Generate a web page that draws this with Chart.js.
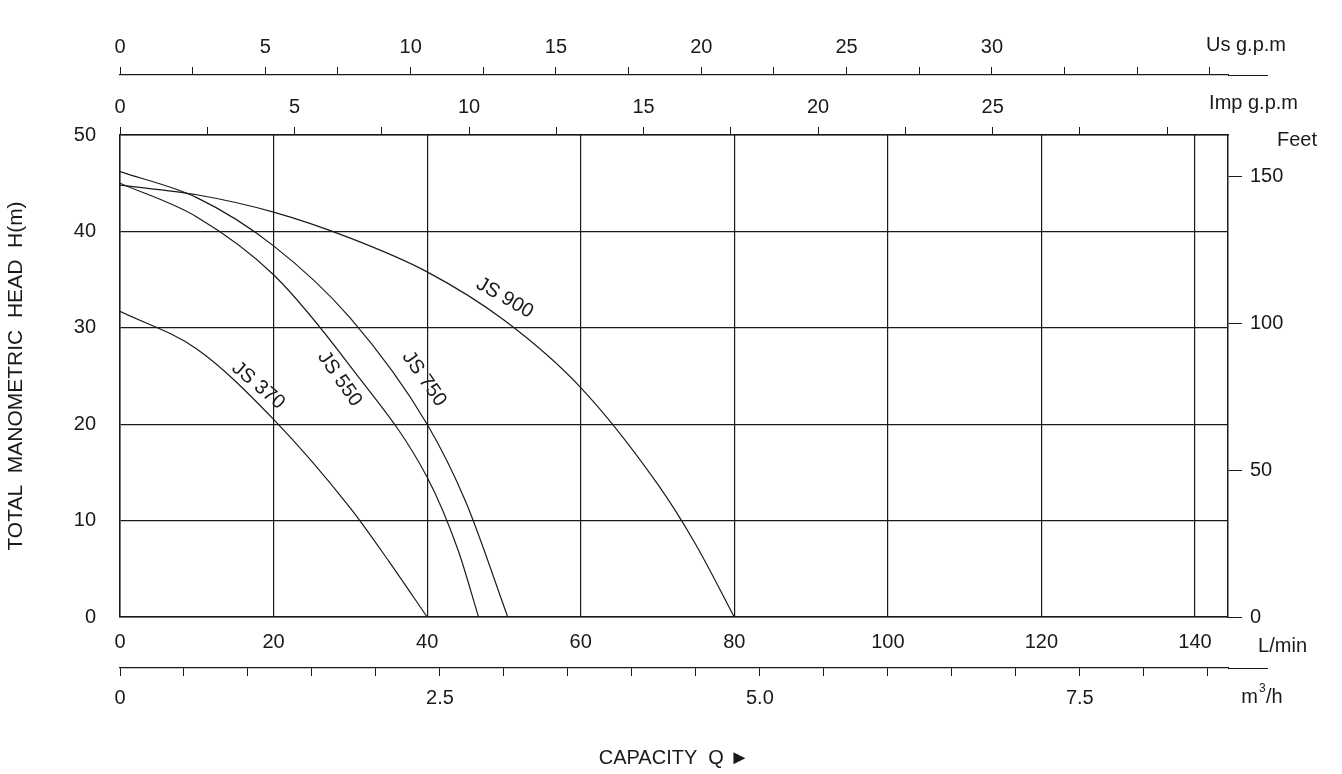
<!DOCTYPE html>
<html>
<head>
<meta charset="utf-8">
<script src="https://cdn.jsdelivr.net/npm/chart.js@4"></script>
<style>
  html, body { margin: 0; padding: 0; background: #fff; }
  #wrap { width: 1342px; height: 774px; }
</style>
</head>
<body>
<div id="wrap"><canvas id="pumpChart"></canvas></div>
<script>
const ctx = document.getElementById('pumpChart').getContext('2d');

// capacity (L/min) vs head (m)
const js370Q = [0, 10, 20, 30, 35, 40];
const js370H = [31.7, 27.8, 20.5, 11.3, 5.8, 0];
const js550Q = [0, 10, 20, 30, 40, 44, 46.7];
const js550H = [45, 41.5, 35.5, 26, 14.5, 7, 0];
const js750Q = [0, 10, 20, 30, 40, 45, 50.5];
const js750H = [46.2, 43.5, 38.5, 31, 20, 12, 0];
const js900Q = [0, 10, 20, 30, 40, 50, 60, 70, 75, 80];
const js900H = [44.8, 43.8, 42, 39.3, 35.8, 30.8, 23.8, 13.8, 7.5, 0];

const curveNames = ['JS 370', 'JS 550', 'JS 750', 'JS 900'];
const labelQ = [18, 28.6, 39.6, 50.1];
const labelH = [24, 24.7, 24.7, 33.1];
const labelAngle = [40, 55, 55, 30];

const Q_MAX = 144.3;
const H_MAX = 50;
const US_GPM = 3.785, IMP_GPM = 4.546;

const FONT = "'Liberation Sans', Arial, sans-serif";
const INK = '#1a1a1a';

function pts(q, h) { return q.map((v, i) => ({ x: v, y: h[i] })); }

const series = [pts(js370Q, js370H), pts(js550Q, js550H), pts(js750Q, js750H), pts(js900Q, js900H)];

const fixed = (w, h) => (scale) => { if (w) scale.width = w; if (h) scale.height = h; };
const tickFont = { family: FONT, size: 20 };

const unitLabels = {
  id: 'unitLabels',
  afterDraw(chart) {
    const c = chart.ctx;
    const x = chart.scales.x, y = chart.scales.y;
    c.save();
    c.fillStyle = INK;
    c.font = '20px ' + FONT;
    c.textBaseline = 'middle';
    c.textAlign = 'right';
    c.fillText('Us g.p.m', 1286, 45);
    c.fillText('Imp g.p.m', 1298, 103);
    c.fillText('Feet', 1317, 140);
    c.fillText('L/min', 1307, 646);
    c.fillText('m', 1258, 697);
    c.font = '12px ' + FONT;
    c.textAlign = 'left';
    c.fillText('3', 1259, 689);
    c.font = '20px ' + FONT;
    c.fillText('/h', 1266, 697);
    // extend the outer scale lines past the plot
    c.strokeStyle = INK; c.lineWidth = 1.2;
    c.beginPath(); c.moveTo(1228, 75.5); c.lineTo(1268, 75.5); c.stroke();
    c.beginPath(); c.moveTo(1228, 668.5); c.lineTo(1268, 668.5); c.stroke();
    // curve names
    c.textAlign = 'center';
    curveNames.forEach((n, i) => {
      c.save();
      c.translate(x.getPixelForValue(labelQ[i]), y.getPixelForValue(labelH[i]));
      c.rotate(labelAngle[i] * Math.PI / 180);
      c.fillText(n, 0, 0);
      c.restore();
    });
    c.restore();
  }
};

const config = {
  type: 'line',
  data: {
    datasets: series.map((d, i) => ({
      label: curveNames[i],
      data: d,
      borderColor: INK,
      borderWidth: 1.2,
      pointRadius: 0,
      cubicInterpolationMode: 'monotone',
      fill: false,
    })),
  },
  options: {
    responsive: true,
    maintainAspectRatio: false,
    animation: false,
    layout: { padding: 0 },
    plugins: { legend: { display: false }, tooltip: { enabled: false } },
    scales: {
      x: {
        type: 'linear', position: 'bottom', min: 0, max: Q_MAX, weight: 1,
        afterFit: fixed(null, 51),
        grid: { color: INK, lineWidth: 1.2, drawTicks: false },
        border: { color: INK, width: 1.5 },
        ticks: { stepSize: 20, includeBounds: false, color: INK, font: tickFont, padding: 13, maxRotation: 0 },
      },
      m3: {
        type: 'linear', position: 'bottom', min: 0, max: Q_MAX * 0.06, weight: 2,
        afterFit: fixed(null, 106),
        grid: { drawOnChartArea: false, color: INK, tickLength: 8 },
        border: { color: INK, width: 1.2 },
        ticks: {
          stepSize: 0.5, includeBounds: false, autoSkip: false, color: INK, font: tickFont, padding: 10, maxRotation: 0,
          callback: (v) => (Math.abs(v / 2.5 - Math.round(v / 2.5)) < 1e-6 ? (v === 0 ? '0' : v.toFixed(1)) : ''),
        },
        title: { display: true, text: 'CAPACITY  Q ►', color: INK, font: { family: FONT, size: 20 }, padding: { top: 22 } },
      },
      imp: {
        type: 'linear', position: 'top', min: 0, max: Q_MAX / IMP_GPM, weight: 1,
        afterFit: fixed(null, 60),
        grid: { drawOnChartArea: false, color: INK, tickLength: 8 },
        border: { color: INK, width: 1.5 },
        ticks: {
          stepSize: 2.5, includeBounds: false, autoSkip: false, color: INK, font: tickFont, padding: 8, maxRotation: 0,
          callback: (v) => (v % 5 === 0 && v <= 25 ? String(v) : ''),
        },
      },
      us: {
        type: 'linear', position: 'top', min: 0, max: Q_MAX / US_GPM, weight: 2,
        afterFit: fixed(null, 75),
        grid: { drawOnChartArea: false, color: INK, tickLength: 8 },
        border: { color: INK, width: 1.2 },
        ticks: {
          stepSize: 2.5, includeBounds: false, autoSkip: false, color: INK, font: tickFont, padding: 8, maxRotation: 0,
          callback: (v) => (v % 5 === 0 && v <= 30 ? String(v) : ''),
        },
      },
      y: {
        type: 'linear', position: 'left', min: 0, max: H_MAX,
        afterFit: fixed(120, null),
        grid: { color: INK, lineWidth: 1.2, drawTicks: false },
        border: { color: INK, width: 1.5 },
        ticks: { stepSize: 10, color: INK, font: tickFont, padding: 24 },
        title: { display: true, text: 'TOTAL  MANOMETRIC  HEAD  H(m)', color: INK, font: { family: FONT, size: 21 }, padding: { bottom: 4 } },
      },
      feet: {
        type: 'linear', position: 'right', min: 0, max: H_MAX / 0.3048,
        afterFit: fixed(114, null),
        grid: { drawOnChartArea: false, color: INK, tickLength: 14 },
        border: { color: INK, width: 1.5 },
        ticks: { stepSize: 50, includeBounds: false, color: INK, font: tickFont, padding: 8 },
      },
    },
  },
  plugins: [unitLabels],
};

const pumpChart = new Chart(ctx, config);
</script>
</body>
</html>
